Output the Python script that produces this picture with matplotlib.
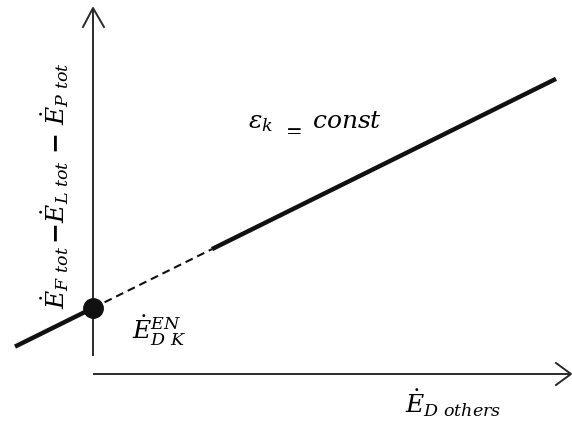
import matplotlib
matplotlib.use("Agg")
import matplotlib.pyplot as plt
import numpy as np

plt.rcParams['mathtext.fontset'] = 'dejavuserif'
plt.rcParams['font.family'] = 'DejaVu Serif'

# Linear relation between the two exergy quantities (axis units)
slope = 0.495
intercept = 0.66                 # value on the vertical axis (marked point)
x_left_solid = [-0.78, 0.0]      # solid part left of the vertical axis
x_dashed = [0.0, 1.19]           # extrapolated part
x_right_solid = [1.19, 4.63]     # solid part at larger abscissa

x_label = r"$\dot{E}_{D\ others}$"
y_label = (r"$\dot{E}_{F\ tot}$" + r"$\,\mathbf{-}$" + r"$\dot{E}_{L\ tot}$"
           + r"$\ \mathbf{-}\ $" + r"$\dot{E}_{P\ tot}$")
point_label = r"$\dot{E}^{EN}_{D\ K}$"


def line(x):
    x = np.asarray(x, dtype=float)
    return intercept + slope * x


fig = plt.figure(figsize=(5.72, 4.21), dpi=100)
ax = fig.add_axes([0, 0, 1, 1])
ax.set_xlim(-0.93, 4.79)
ax.set_ylim(-0.47, 3.74)
ax.axis('off')

axis_color = '#2a2a2a'
axis_lw = 1.4

# vertical axis with open arrowhead
ax.plot([0, 0], [0.18, 3.66], color=axis_color, lw=axis_lw, solid_capstyle='butt')
ax.plot([-0.10, 0, 0.11], [3.47, 3.66, 3.47], color=axis_color, lw=axis_lw)

# horizontal axis with open arrowhead
ax.plot([0, 4.78], [0, 0], color=axis_color, lw=axis_lw, solid_capstyle='butt')
ax.plot([4.63, 4.78, 4.63], [0.11, 0, -0.11], color=axis_color, lw=axis_lw)

# the relation itself
ax.plot(x_left_solid, line(x_left_solid), color='#111111', lw=3.2,
        solid_capstyle='butt')
ax.plot(x_dashed, line(x_dashed), color='#111111', lw=1.5,
        linestyle=(0, (3.8, 2.4)))
ax.plot(x_right_solid, line(x_right_solid), color='#111111', lw=3.2,
        solid_capstyle='butt')
ax.plot([0], line([0]), 'o', color='#111111', markersize=14, zorder=5)

fs = 18
ax.text(1.55, 2.46, r"$\varepsilon_{k}$", fontsize=fs, ha='left',
        va='baseline')
ax.text(1.89, 2.38, r"$=$", fontsize=fs * 0.8, ha='left', va='baseline')
ax.text(2.19, 2.46, r"$const$", fontsize=fs, ha='left', va='baseline')

ax.text(0.39, 0.34, point_label, fontsize=fs, ha='left', va='baseline')
ax.text(3.12, -0.39, x_label, fontsize=fs, ha='left', va='baseline')
ax.text(-0.38, 1.88, y_label, fontsize=fs, rotation=90,
        ha='center', va='center')

fig.savefig('out.png', dpi=100)
